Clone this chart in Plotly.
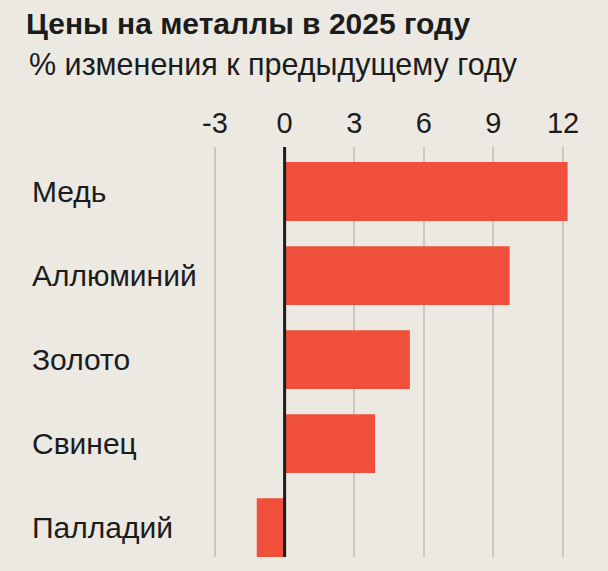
import plotly.graph_objects as go

categories = ["Медь", "Аллюминий", "Золото", "Свинец", "Палладий"]
values = [12.2, 9.7, 5.4, 3.9, -1.2]
tick_vals = [-3, 0, 3, 6, 9, 12]
tick_text = ["-3", "0", "3", "6", "9", "12"]

BG = "#ebe9e2"
BAR = "#f0503b"
TXT = "#1c1c1c"
FONT = "Liberation Sans, Arial, sans-serif"

W, H = 608, 571
ML, MR, MT, MB = 200, 28, 147, 14
PW = W - ML - MR
PH = H - MT - MB

fig = go.Figure()
fig.add_trace(go.Bar(
    x=values, y=categories, orientation="h",
    marker=dict(color=BAR, line=dict(width=0)),
    width=0.7,
    hoverinfo="x+y",
))

fig.add_shape(type="line", xref="x", yref="paper", x0=0, x1=0, y0=0, y1=1,
              line=dict(color=TXT, width=3), layer="above")

for c in categories:
    fig.add_annotation(x=(30 - ML) / PW, xref="paper", y=c, yref="y",
                       text=c, showarrow=False, xanchor="left", yanchor="middle",
                       font=dict(size=30, color=TXT, family=FONT))

fig.add_annotation(x=(27 - ML) / PW, xref="paper", y=(H - MB - 64) / PH, yref="paper",
                   text="% изменения к предыдущему году", showarrow=False,
                   xanchor="left", yanchor="middle",
                   font=dict(size=30.5, color=TXT, family=FONT))

fig.update_layout(
    width=W, height=H,
    paper_bgcolor=BG, plot_bgcolor=BG,
    margin=dict(l=ML, r=MR, t=MT, b=MB),
    showlegend=False,
    title=dict(text="<b>Цены на металлы в 2025 году</b>", xref="container", yref="container",
               x=26 / W, y=1 - 23 / H, xanchor="left", yanchor="middle",
               font=dict(size=30, color=TXT, family=FONT)),
    xaxis=dict(side="top", range=[-3.647, 12.733], tickvals=tick_vals, ticktext=tick_text,
               showgrid=True, gridcolor="#c9c7c0", gridwidth=2, zeroline=False,
               ticks="outside", ticklen=1, tickcolor="rgba(0,0,0,0)",
               tickfont=dict(size=29, color=TXT, family=FONT), fixedrange=True),
    yaxis=dict(categoryorder="array", categoryarray=categories, range=[4.35, -0.53],
               showticklabels=False, showgrid=False, zeroline=False, fixedrange=True),
)

fig.write_html("out.html")
